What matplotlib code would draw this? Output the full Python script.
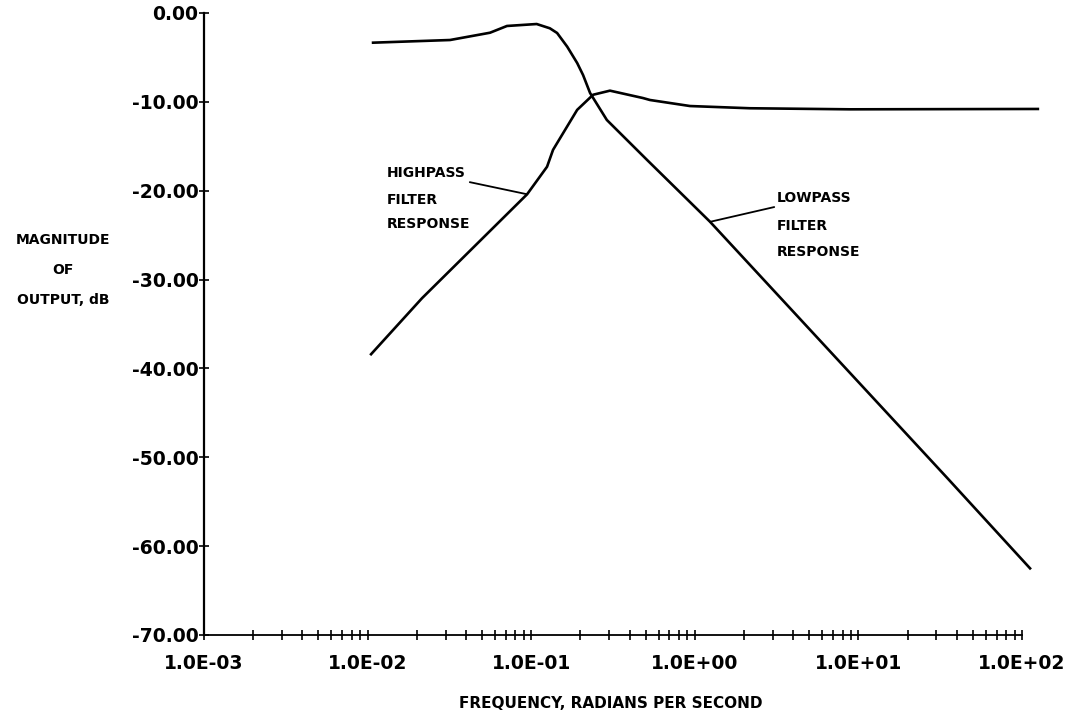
import numpy as np
import matplotlib
matplotlib.use("Agg")
import matplotlib.pyplot as plt
from matplotlib.ticker import FuncFormatter, NullFormatter, MultipleLocator

plt.rcParams['font.family'] = ['DejaVu Sans']
plt.rcParams['font.weight'] = 'bold'

# lowpass filter response
lp_freq = [0.0108, 0.0319, 0.056, 0.0711, 0.108, 0.130, 0.144, 0.166, 0.191, 0.2075,
           0.229, 0.290, 0.511, 1.24, 34.8, 112]
lp_db = [-3.34, -3.04, -2.22, -1.46, -1.24, -1.72, -2.25, -3.79, -5.63, -6.98,
         -9.0, -12.04, -16.54, -23.5, -52.3, -62.5]

# highpass filter response
hp_freq = [0.0105, 0.0215, 0.0944, 0.125, 0.136, 0.150, 0.191, 0.239, 0.303, 0.482,
           0.532, 0.935, 2.17, 8.89, 125]
hp_db = [-38.4, -32.1, -20.4, -17.3, -15.4, -14.1, -10.9, -9.2, -8.74, -9.57,
         -9.79, -10.47, -10.72, -10.84, -10.8]

W, H = 1085, 718
fig = plt.figure(figsize=(W / 100, H / 100), dpi=100)

# axes placed in pixels: 1e-3 at x=204, 163.6 px per decade; 0 dB at y=13, -70 at y=635
left, top, bottom = 204, 13, 635
right = 1060
ax = fig.add_axes([left / W, 1 - bottom / H, (right - left) / W, (bottom - top) / H])
ax.set_xscale('log')
ax.set_xlim(1e-3, 10 ** (-3 + (right - left) / 163.6))
ax.set_ylim(-70, 0)

ax.plot(lp_freq, lp_db, color='black', lw=1.9, clip_on=False)
ax.plot(hp_freq, hp_db, color='black', lw=1.9, clip_on=False)

for s in ['top', 'right']:
    ax.spines[s].set_visible(False)
ax.spines['left'].set_linewidth(1.6)
ax.spines['bottom'].set_linewidth(1.3)
ax.spines['bottom'].set_bounds(1e-3, 1e2)

major = [10.0 ** k for k in range(-3, 3)]
minor = [m * 10.0 ** k for k in range(-3, 2) for m in range(2, 10)]
ax.set_xticks(major)
ax.set_xticks(minor, minor=True)
ax.xaxis.set_major_formatter(FuncFormatter(lambda v, p: f"{v:.1E}"))
ax.xaxis.set_minor_formatter(NullFormatter())
ax.yaxis.set_major_locator(MultipleLocator(10))
ax.yaxis.set_major_formatter(FuncFormatter(lambda v, p: f"{v:.2f}"))

ax.tick_params(axis='x', which='both', direction='inout', length=7, width=1.2,
               pad=10, labelsize=13.5)
ax.tick_params(axis='y', which='major', direction='inout', length=7, width=1.2,
               pad=0.5, labelsize=13.5)

# labels on the curves
fs = 10
ax.annotate('HIGHPASS', xy=(0.0944, -20.4), xytext=(0.0131, -18.0), fontsize=fs,
            va='center', ha='left',
            arrowprops=dict(arrowstyle='-', color='black', lw=1.3,
                            shrinkA=1, shrinkB=0))
ax.text(0.0131, -21.0, 'FILTER', fontsize=fs, va='center', ha='left')
ax.text(0.0131, -23.7, 'RESPONSE', fontsize=fs, va='center', ha='left')

ax.annotate('LOWPASS', xy=(1.24, -23.5), xytext=(3.18, -20.8), fontsize=fs,
            va='center', ha='left',
            arrowprops=dict(arrowstyle='-', color='black', lw=1.3,
                            shrinkA=0, shrinkB=0))
ax.text(3.18, -24.0, 'FILTER', fontsize=fs, va='center', ha='left')
ax.text(3.18, -26.9, 'RESPONSE', fontsize=fs, va='center', ha='left')

# axis titles
for txt, y in [('MAGNITUDE', 240), ('OF', 270), ('OUTPUT, dB', 300)]:
    fig.text(63 / W, 1 - y / H, txt, ha='center', va='center', fontsize=10)
fig.text(611 / W, 1 - 703 / H, 'FREQUENCY, RADIANS PER SECOND', ha='center',
         va='center', fontsize=11)

fig.savefig('out.png', dpi=100)
